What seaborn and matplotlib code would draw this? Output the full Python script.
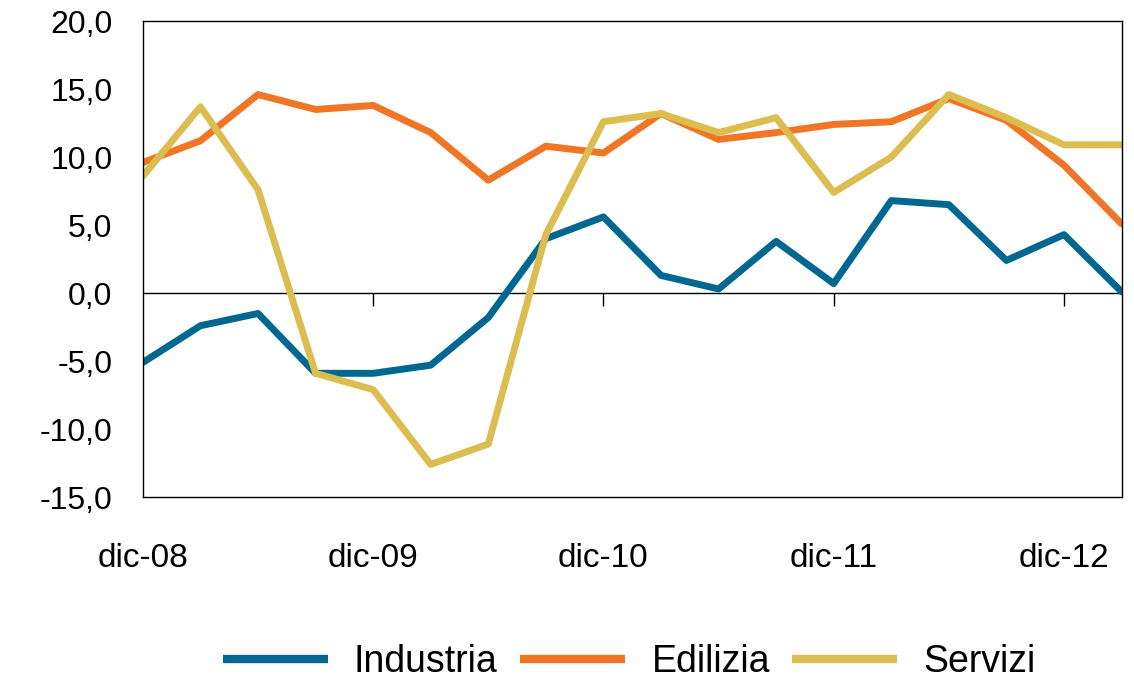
import pandas as pd
import seaborn as sns
import matplotlib
matplotlib.use('Agg')
from matplotlib import pyplot as plt
from matplotlib.ticker import FuncFormatter

# quarterly series, dec labels every 4 quarters
years = ['08', '09', '10', '11', '12']
industria = [-5.1, -2.4, -1.5, -5.9, -5.9, -5.3, -1.8, 4.0, 5.6, 1.3, 0.3, 3.8, 0.7, 6.8, 6.5, 2.4, 4.3, 0.1]
edilizia = [9.6, 11.2, 14.6, 13.5, 13.8, 11.8, 8.3, 10.8, 10.3, 13.2, 11.3, 11.8, 12.4, 12.6, 14.3, 12.7, 9.4, 5.1]
servizi = [8.6, 13.7, 7.6, -5.9, -7.1, -12.6, -11.1, 4.3, 12.6, 13.2, 11.8, 12.9, 7.4, 10.0, 14.6, 12.9, 10.9, 10.9]
series = ['Industria', 'Edilizia', 'Servizi']
colors = ['#006890', '#F07525', '#DCBE50']

n = len(industria)
df = pd.DataFrame({'t': list(range(n)) * 3,
                   'val': industria + edilizia + servizi,
                   'serie': [s for s in series for _ in range(n)]})

sns.set_style('white')
plt.rcParams['font.family'] = ['Liberation Sans Narrow', 'Liberation Sans', 'DejaVu Sans']
plt.rcParams['text.color'] = 'black'
plt.rcParams['xtick.color'] = 'black'
plt.rcParams['ytick.color'] = 'black'

fig = plt.figure(figsize=(11.34, 6.8), dpi=100)
ax = fig.add_axes([0.126, 0.269, 0.863, 0.700])
sns.lineplot(data=df, x='t', y='val', hue='serie', palette=colors, hue_order=series,
             linewidth=5, ax=ax)

ax.set_xlim(0, n - 1)
ax.set_ylim(-15, 20)
ax.set_yticks(range(-15, 21, 5))
ax.yaxis.set_major_formatter(FuncFormatter(lambda v, p: f'{v:.1f}'.replace('.', ',')))
ax.set_xticks(range(0, n, 4))
ax.set_xticklabels(['dic-' + y for y in years])
ax.tick_params(axis='x', length=0, pad=33, labelsize=24)
ax.tick_params(axis='y', length=0, pad=22, labelsize=23)
ax.set_xlabel('')
ax.set_ylabel('')
for s in ax.spines.values():
    s.set_color('black')
    s.set_linewidth(1)

# zero line with tick marks
ax.axhline(0, color='black', linewidth=1, zorder=1)
sec = ax.secondary_xaxis(15 / 35)
sec.set_xticks(range(4, n, 4))
sec.tick_params(axis='x', direction='out', length=9, width=1, labelbottom=False, labeltop=False)
sec.spines['bottom'].set_visible(False)
sec.spines['top'].set_visible(False)

ax.legend(loc='center', bbox_to_anchor=(0.555, 0.027), bbox_transform=fig.transFigure,
          ncol=3, frameon=False, fontsize=27, handlelength=2.8,
          columnspacing=0.6, handletextpad=0.7)
for line in ax.get_legend().get_lines():
    line.set_linewidth(6)
    line.set_solid_capstyle('butt')

fig.savefig('out.png', dpi=100)
